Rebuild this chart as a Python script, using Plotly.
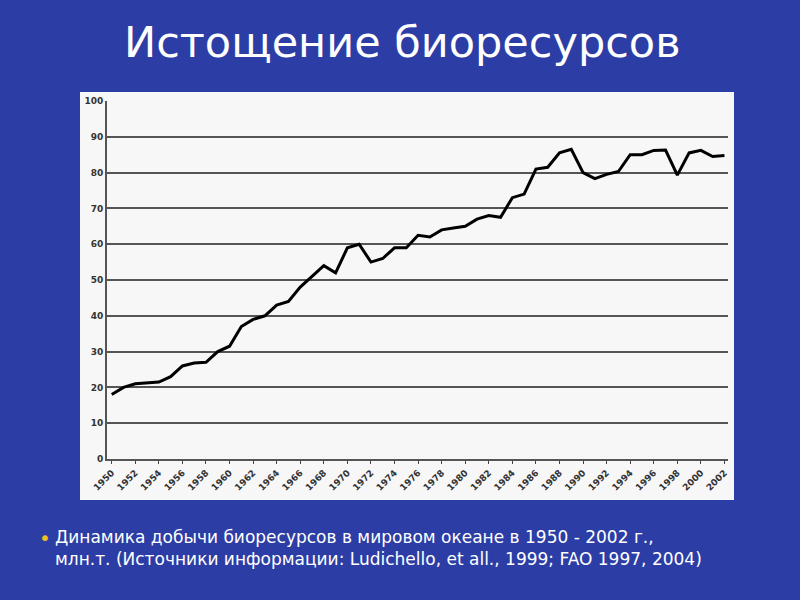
import plotly.graph_objects as go

years = list(range(1950, 2003))
catch = [18, 20, 21, 21.2, 21.5, 23, 26, 26.8, 27, 30, 31.5, 37, 39, 40, 43, 44, 48, 51, 54, 52,
         59, 60, 55, 56, 59, 59, 62.5, 62, 64, 64.5, 65, 67, 68, 67.5, 73, 74, 81, 81.5, 85.5, 86.5,
         80, 78.3, 79.5, 80.3, 85, 85, 86.2, 86.3, 79.3, 85.5, 86.2, 84.5, 84.8]
x_ticks = list(range(1950, 2003, 2))
title = "Истощение биоресурсов"
caption = ("Динамика добычи биоресурсов в мировом океане в 1950 - 2002 г.,<br>"
           "млн.т. (Источники информации: Ludichello, et all., 1999; FAO 1997, 2004)")

W, H = 800, 600
L, R, T, B = 107, 800 - 728, 101, 600 - 459

fig = go.Figure(go.Scatter(x=years, y=catch, mode="lines",
                           line=dict(color="black", width=3), showlegend=False))

def px(xp): return (xp - L) / (W - L - R)
def py(yp): return (H - B - yp) / (H - T - B)

fig.add_shape(type="rect", xref="paper", yref="paper", x0=px(80), x1=px(734), y0=py(500), y1=py(92),
              fillcolor="#f7f7f7", line=dict(width=0), layer="below")
fig.add_annotation(text=title, xref="paper", yref="paper", x=px(402), y=py(42), showarrow=False,
                   xanchor="center", yanchor="middle",
                   font=dict(family="DejaVu Sans", size=43, color="white"))
fig.add_annotation(text="•", xref="paper", yref="paper", x=px(45), y=py(538), showarrow=False,
                   xanchor="center", yanchor="middle",
                   font=dict(family="DejaVu Sans", size=20, color="#f0c020"))
fig.add_annotation(text=caption, xref="paper", yref="paper", x=px(53), y=py(548), showarrow=False,
                   xanchor="left", yanchor="middle", align="left",
                   font=dict(family="DejaVu Sans", size=17, color="white"))

tf = dict(family="DejaVu Sans", size=9, color="#333", weight="bold")
fig.update_layout(
    width=W, height=H, margin=dict(l=L, r=R, t=T, b=B),
    paper_bgcolor="#2c3ea6", plot_bgcolor="#f7f7f7",
    xaxis=dict(range=[1949.6, 2002.3], tickvals=x_ticks, tickangle=-45, tickfont=tf,
               showgrid=False, showline=True, linecolor="#555", linewidth=2,
               ticks="outside", ticklen=3, zeroline=False),
    yaxis=dict(range=[0, 100], dtick=10, tickfont=tf,
               showgrid=True, gridcolor="#555", gridwidth=2, showline=True,
               linecolor="#555", linewidth=2, zeroline=False),
)
fig.write_html("out.html", config={"displayModeBar": False},
               post_script="document.body.style.margin='0';")
